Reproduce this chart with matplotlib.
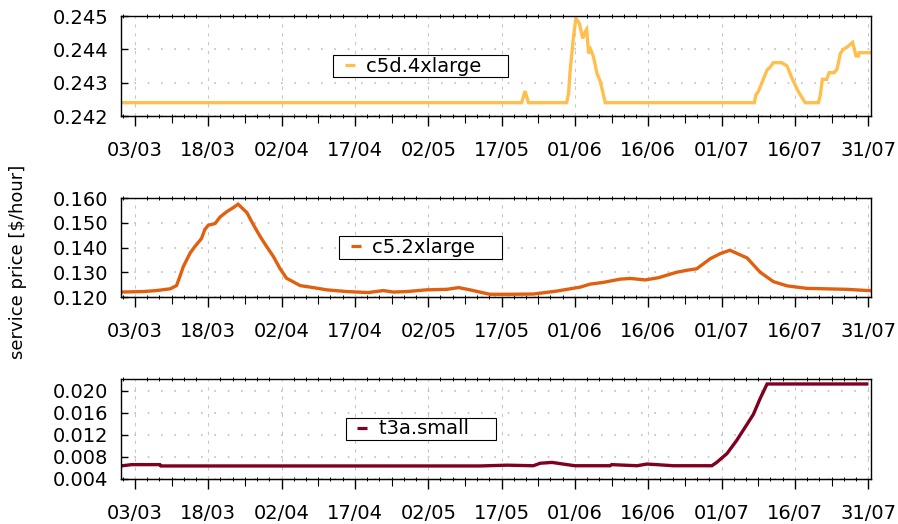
import matplotlib
matplotlib.use("Agg")
import matplotlib.pyplot as plt
import matplotlib.dates as mdates
import matplotlib.ticker as mticker
from matplotlib.lines import Line2D
import pandas as pd

# day offsets from 03/03 and hourly price
START = pd.Timestamp("2021-03-03")

c5d_days = [-2.86, 79.1, 79.8, 80.5, 88.3, 88.7, 89.0, 89.7, 90.2, 90.9, 91.6, 92.1,
            92.4, 92.8, 93.2, 93.8, 94.5, 95.2, 96.2, 126.7, 127.0, 127.5, 129.3,
            129.9, 130.6, 132.3, 133.4, 134.4, 135.7, 137.1, 139.8, 140.2, 140.6,
            141.5, 142.0, 143.0, 143.6, 144.3, 144.9, 145.6, 146.8, 147.5, 148.0,
            148.1, 150.4]
c5d_price = [0.2424, 0.2424, 0.24275, 0.2424, 0.2424, 0.24268, 0.24333, 0.24438,
             0.24493, 0.24478, 0.24433, 0.24453, 0.2446, 0.24388, 0.2440, 0.24378,
             0.24328, 0.24303, 0.2424, 0.2424, 0.24263, 0.24273, 0.24338, 0.24346,
             0.2436, 0.2436, 0.2435, 0.24313, 0.24273, 0.2424, 0.2424, 0.24263,
             0.2431, 0.2431, 0.2433, 0.2433, 0.2434, 0.24388, 0.2440, 0.24406,
             0.24421, 0.2438, 0.2438, 0.2439, 0.2439]

c5_days = [-2.86, 1.7, 4.4, 7.2, 8.5, 9.2, 9.9, 11.3, 12.3, 13.6, 14.3, 15.0, 16.4,
           17.4, 18.8, 20.1, 21.1, 22.9, 24.2, 25.6, 26.9, 28.3, 29.7, 31.0, 33.8,
           36.5, 39.2, 43.3, 47.7, 50.8, 52.9, 55.6, 59.7, 63.8, 66.2, 68.5, 72.6,
           76.7, 81.5, 86.3, 91.1, 93.1, 95.8, 99.2, 101.3, 104.4, 107.1, 110.8,
           112.9, 114.9, 117.7, 119.7, 121.7, 125.2, 127.9, 130.6, 133.4, 137.4,
           141.5, 145.6, 150.0, 150.4]
c5_price = [0.1220, 0.1222, 0.1226, 0.1233, 0.1246, 0.1283, 0.1323, 0.1378, 0.1405,
            0.1436, 0.1473, 0.1490, 0.1497, 0.1523, 0.1545, 0.1561, 0.1575, 0.1541,
            0.1493, 0.1445, 0.1405, 0.1364, 0.1314, 0.1276, 0.1246, 0.1238, 0.1229,
            0.1222, 0.1218, 0.1226, 0.1220, 0.1222, 0.1229, 0.1231, 0.1238, 0.1229,
            0.1211, 0.1211, 0.1212, 0.1224, 0.1240, 0.1252, 0.1259, 0.1272, 0.1275,
            0.1269, 0.1278, 0.1300, 0.1308, 0.1314, 0.1355, 0.1375, 0.1389, 0.1358,
            0.1300, 0.1262, 0.1245, 0.1235, 0.1233, 0.1231, 0.1226, 0.1226]

t3a_days = [-2.86, -0.7, 5.1, 5.3, 70.6, 76.1, 81.5, 82.9, 85.3, 87.6, 90.0, 97.2,
            97.5, 102.7, 104.7, 106.7, 110.1, 118.0, 119.0, 121.1, 123.1, 125.2,
            126.5, 127.9, 129.3, 149.7]
t3a_price = [0.00636, 0.0066, 0.0066, 0.00636, 0.00636, 0.0065, 0.0064, 0.00685,
             0.0070, 0.0067, 0.0064, 0.0064, 0.0066, 0.0064, 0.0067, 0.0066, 0.0064,
             0.0064, 0.0070, 0.0086, 0.0110, 0.0139, 0.0157, 0.0186, 0.0212, 0.0212]

series = [
    ("c5d.4xlarge", c5d_days, c5d_price, "#ffbf4f", [0.242, 0.243, 0.244, 0.245], (0.242, 0.245)),
    ("c5.2xlarge", c5_days, c5_price, "#e0600f",
     [0.120, 0.130, 0.140, 0.150, 0.160], (0.120, 0.160)),
    ("t3a.small", t3a_days, t3a_price, "#800020",
     [0.004, 0.008, 0.012, 0.016, 0.020], (0.004, 0.0221)),
]


def to_dates(days):
    return START + pd.to_timedelta(pd.Series(days), unit="D")


def main():
    plt.rcParams["font.family"] = "DejaVu Sans"
    fig = plt.figure(figsize=(8.98, 5.24), dpi=100)

    x0 = START + pd.Timedelta(days=-2.86)
    x1 = START + pd.Timedelta(days=150.5)
    major = pd.date_range("2021-03-03", "2021-07-31", freq="15D")
    minor = pd.date_range("2021-02-28 12:00", "2021-07-31", freq="60h")
    mids = pd.date_range("2021-03-10 12:00", "2021-07-31", freq="15D")

    panel_pos = [0.7786, 0.4332, 0.0859]
    heights = [0.1908, 0.1889, 0.1908]

    for (name, days, price, color, yticks, ylim), bottom, h in zip(series, panel_pos, heights):
        ax = fig.add_axes([0.1347, bottom, 0.8349, h])
        ax.plot(to_dates(days), price, color=color, linewidth=2.4, solid_joinstyle="miter")

        ax.set_xlim(x0, x1)
        ax.set_ylim(*ylim)
        ax.set_yticks(yticks)
        ax.yaxis.set_major_formatter(mticker.FormatStrFormatter("%.3f"))
        ax.xaxis.set_major_locator(mticker.FixedLocator(mdates.date2num(major)))
        ax.xaxis.set_major_formatter(mdates.DateFormatter("%d/%m"))
        ax.xaxis.set_minor_locator(mticker.FixedLocator(mdates.date2num(minor)))

        ax.tick_params(axis="x", which="major", direction="out", length=7, width=1,
                       pad=11, labelsize=14)
        ax.tick_params(axis="x", which="minor", direction="inout", length=3, width=0.7,
                       top=True)
        ax.tick_params(axis="y", which="major", direction="in", length=5, width=1,
                       pad=9, labelsize=14)
        ax.grid(axis="x", which="major", color="#c8c8c8", linestyle=(0, (3, 5)), linewidth=0.8)
        ax.grid(axis="y", which="major", color="#c0c0c0", linestyle=(0, (1, 7)), linewidth=1.2)
        for sp in ax.spines.values():
            sp.set_linewidth(1)

        # half-way ticks between the labelled dates
        sec = ax.secondary_xaxis("bottom")
        sec.set_xticks(mdates.date2num(mids))
        sec.xaxis.set_major_formatter(mticker.NullFormatter())
        sec.tick_params(direction="out", length=5, width=0.8)

        handle = Line2D([0], [0], color=color, marker="_", markersize=7.2,
                        markeredgewidth=2.3, linestyle="None")
        leg = ax.legend([handle], [name + "    "], loc="center", bbox_to_anchor=(0.40, 0.5),
                        fontsize=14, handlelength=1.5, handletextpad=0.1, borderpad=0.1,
                        numpoints=1, fancybox=False, edgecolor="black", framealpha=1)
        leg.get_frame().set_linewidth(0.8)

    fig.text(0.02, 0.5, "service price [$/hour]", rotation=90, va="center", ha="center",
             fontsize=13)

    plt.savefig("out.png", dpi=100)


if __name__ == "__main__":
    main()
